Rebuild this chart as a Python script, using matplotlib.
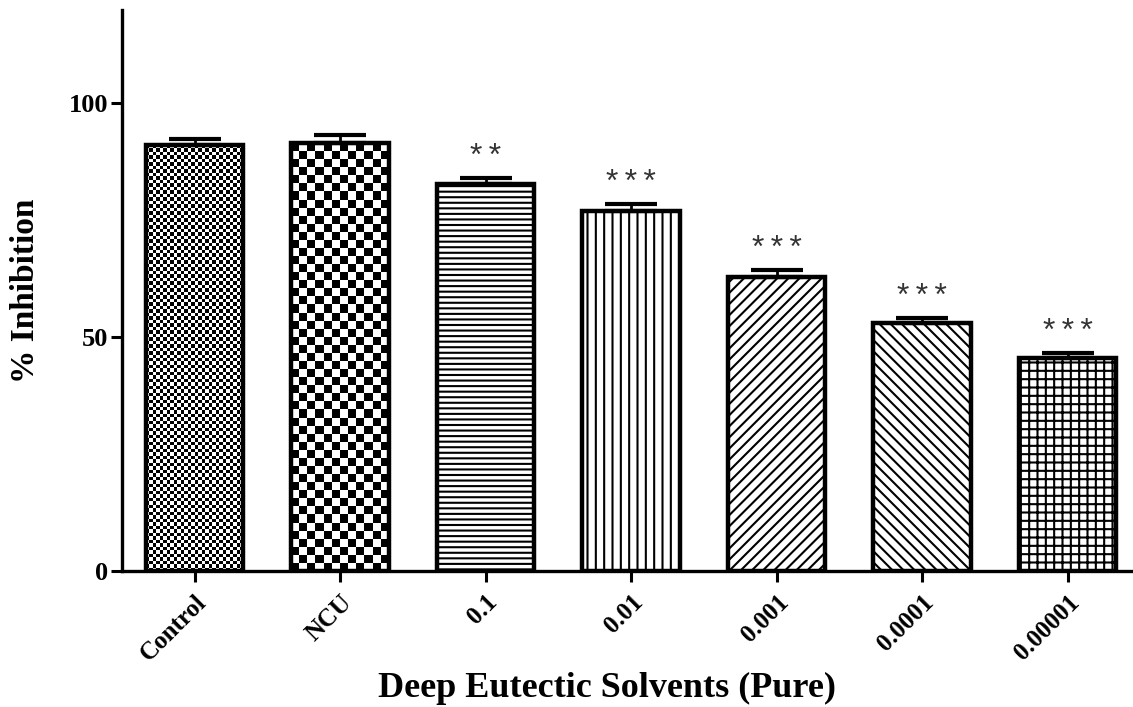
import numpy as np
import matplotlib
matplotlib.use("Agg")
import matplotlib.pyplot as plt

categories = ["Control", "NCU", "0.1", "0.01", "0.001", "0.0001", "0.00001"]
inhibition = [91.1, 91.5, 82.8, 77.1, 62.8, 53.0, 45.5]
sem = [1.3, 1.7, 1.2, 1.3, 1.5, 1.1, 1.1]
significance = ["", "", "**", "***", "***", "***", "***"]
yticks = [0, 50, 100]

# styles
hatches = [None, None, "---", "||", "///", "\\\\\\", "++"]
checker_cell_px = [3.5, 8, None, None, None, None, None]

plt.rcParams["hatch.linewidth"] = 1.5
serif = ["Liberation Serif", "DejaVu Serif"]

fig = plt.figure(figsize=(11.33, 7.07), dpi=100)
ax = fig.add_axes([0.1077, 0.1924, 0.8923, 0.7935])

x = np.arange(len(categories))
ax.set_xlim(-0.5, 6.45)
ax.set_ylim(0, 120)

bars = []
for i in range(len(categories)):
    b = ax.bar(x[i], inhibition[i], width=0.67,
               facecolor="white" if checker_cell_px[i] is None else "none",
               edgecolor="black", linewidth=3.2, hatch=hatches[i], zorder=3)
    bars.append(b[0])

# checkerboard fills for the first two bars (texture clipped to the bar)
for i, rect in enumerate(bars):
    cell = checker_cell_px[i]
    if cell is None:
        continue
    x0, y0 = rect.get_x(), rect.get_y()
    w, h = rect.get_width(), rect.get_height()
    p0 = ax.transData.transform((x0, y0))
    p1 = ax.transData.transform((x0 + w, y0 + h))
    nx = max(1, int(round(abs(p1[0] - p0[0]) / cell)))
    ny = max(1, int(round(abs(p1[1] - p0[1]) / cell)))
    board = (np.add.outer(np.arange(ny), np.arange(nx)) % 2).astype(float)
    im = ax.imshow(board, cmap="gray", extent=(x0, x0 + w, y0, y0 + h),
                   aspect="auto", interpolation="nearest", zorder=2,
                   vmin=0, vmax=1)
    im.set_clip_path(rect)

ax.set_xlim(-0.5, 6.45)
ax.set_ylim(0, 120)

ax.errorbar(x, inhibition, yerr=[np.zeros(len(sem)), sem], fmt="none",
            ecolor="black", elinewidth=2, capsize=19, capthick=3, zorder=4)

for i, s in enumerate(significance):
    if s:
        ax.text(x[i], inhibition[i] + sem[i] + 2.8, "\u2009".join(s),
                ha="center", va="baseline", fontsize=23,
                family=["Liberation Sans", "DejaVu Sans"], color="#333333")

for side in ["top", "right"]:
    ax.spines[side].set_visible(False)
for side in ["left", "bottom"]:
    ax.spines[side].set_linewidth(2.4)

ax.set_yticks(yticks)
ax.set_yticklabels([str(v) for v in yticks], fontsize=19, fontweight="bold",
                   family=serif)
ax.set_xticks(x)
ax.set_xticklabels(categories, rotation=45, ha="right",
                   rotation_mode="anchor", fontsize=18, fontweight="bold",
                   family=serif)
ax.tick_params(axis="both", direction="out", length=8, width=2.2)
ax.tick_params(axis="y", pad=2)
ax.tick_params(axis="x", pad=6)

ax.set_ylabel("% Inhibition", fontsize=24, fontweight="bold", family=serif,
              labelpad=20)
ax.set_xlabel("Deep Eutectic Solvents (Pure)", fontsize=26, fontweight="bold",
              family=serif)
ax.xaxis.set_label_coords(0.48, -0.18)

fig.savefig("out.png", dpi=100)
